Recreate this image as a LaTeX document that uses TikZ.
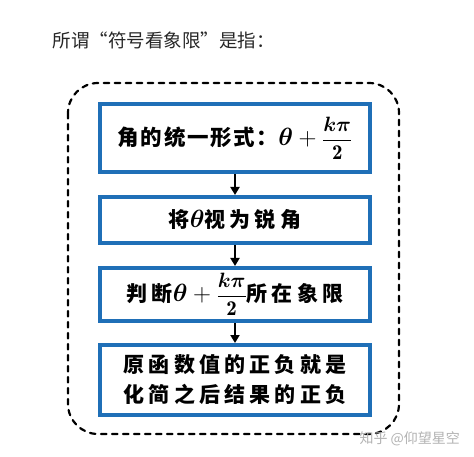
\documentclass[tikz,border=0pt]{standalone}
\usepackage{fontspec}
\usepackage{amsmath}
\usepackage{bm}
\usetikzlibrary{arrows.meta}
\newfontfamily\cjk{Noto Sans CJK SC}
\newfontfamily\cjktight{Noto Sans CJK SC}[LetterSpace=8]
\newfontfamily\cjkwide{Noto Sans CJK SC}[LetterSpace=20]
\definecolor{boxblue}{RGB}{31,111,183}
\newcommand\steptheta{{\fontsize{25}{30}\selectfont$\bm{\theta}$}}
\newcommand\stepsum{{\fontsize{25}{30}\selectfont$\bm{\theta}+{}$}{\fontsize{21}{26}\selectfont$\dfrac{\bm{k\pi}}{\mathbf{2}}$}}

\begin{document}
\begin{tikzpicture}[x=1pt,y=1pt,yscale=-1,
	stepbox/.style={draw=boxblue, line width=4pt, fill=white, minimum width=270pt, align=center, inner sep=0pt},
	flow/.style={-{Triangle[length=8pt,width=9pt]}, line width=1.8pt}]
	\useasboundingbox (0,0) rectangle (474,457);

	% Title
	\node [anchor=west, font=\cjk\fontsize{18.5}{22}\selectfont, text=black!85] (title) at (49,40) {所谓“符号看象限”是指：};

	% Frame
	\draw [black, line width=2.2pt, line cap=round, dash pattern=on 5.5pt off 5.5pt, rounded corners=30pt] (68,83) rectangle (399,434);

	% Steps
	\node [stepbox, minimum height=68pt, font=\cjktight\fontsize{21.5}{26}\selectfont\bfseries] (form) at (235,138) {角的统一形式：\stepsum};
	\node [stepbox, minimum height=46pt, font=\cjkwide\fontsize{21}{26}\selectfont\bfseries] (acute) at (235,220) {将\steptheta 视为锐角};
	\node [stepbox, minimum height=53pt, font=\cjkwide\fontsize{21}{26}\selectfont\bfseries] (quadrant) at (235,294.5) {判断\stepsum 所在象限};
	\node [stepbox, minimum height=70pt, font=\cjkwide\fontsize{21}{30}\selectfont\bfseries] (sign) at (235,380) {原函数值的正负就是\\化简之后结果的正负};

	% Connection
	\draw [flow] (form) -- (acute);
	\draw [flow] (acute) -- (quadrant);
	\draw [flow] (quadrant) -- (sign);

	% Watermark
	\node [anchor=west, font=\cjk\fontsize{14}{16}\selectfont, text=black!30] (mark) at (356,439) {知乎 @仰望星空};
\end{tikzpicture}
\end{document}
